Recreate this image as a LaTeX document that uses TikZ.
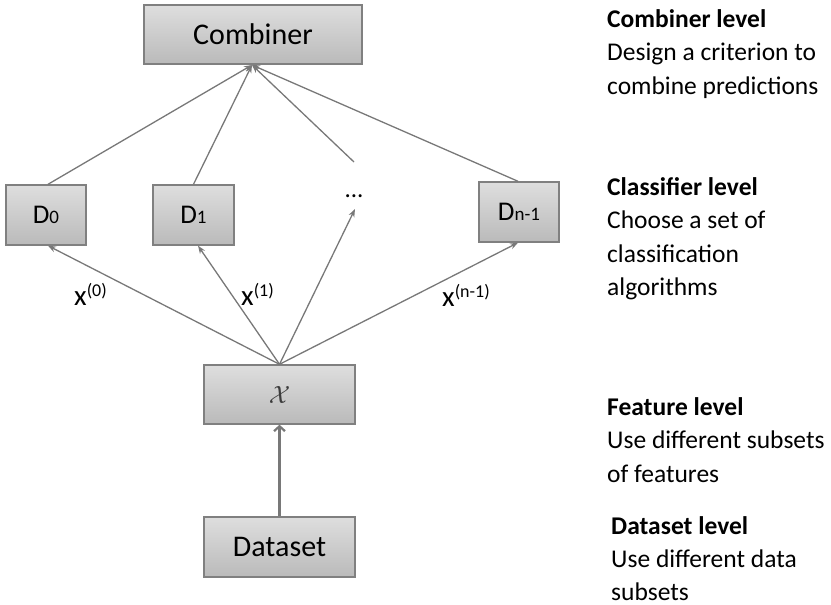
\documentclass[tikz,border=0pt]{standalone}
\usepackage{fontspec}
\setmainfont{Carlito}
\usetikzlibrary{arrows.meta,calc}
\definecolor{boxline}{RGB}{128,128,128}
\definecolor{boxtop}{RGB}{222,222,222}
\definecolor{boxbot}{RGB}{186,186,186}
\definecolor{linegray}{RGB}{120,120,120}
\definecolor{calx}{RGB}{60,60,60}
\begin{document}
\begin{tikzpicture}[x=1pt,y=-1pt,
  box/.style={draw=boxline, line width=1.4pt, top color=boxtop, bottom color=boxbot, inner sep=0pt, font=\fontsize{30}{36}\selectfont},
  conn/.style={draw=linegray, line width=1.3pt, -{Stealth[length=8pt,width=6pt]}},
  thick conn/.style={draw=linegray, line width=2.2pt, -{Straight Barb[length=5pt,width=11pt]}},
  lvl/.style={anchor=north west, inner sep=0pt, align=left, font=\fontsize{25.5}{33.5}\selectfont},
  xlab/.style={anchor=base west, inner sep=0pt, font=\fontsize{29}{34}\selectfont},
  dlab/.style={font=\fontsize{27}{30}\selectfont}
]
\useasboundingbox (0,0) rectangle (831,605);

% boxes
\node[box, minimum width=218pt, minimum height=59pt] (comb) at (253,34.5) {Combiner};
\node[box, dlab, minimum width=80pt, minimum height=60pt] (d0) at (46,215) {D{\fontsize{19}{22}\selectfont 0}};
\node[box, dlab, minimum width=81pt, minimum height=60pt] (d1) at (193.5,215) {D{\fontsize{19}{22}\selectfont 1}};
\node[box, dlab, minimum width=80pt, minimum height=60pt] (dn) at (519,212) {D{\fontsize{19}{22}\selectfont n-1}};
\node[anchor=base, inner sep=0pt, font=\fontsize{25}{30}\selectfont] (dots) at (354,197) {...};
\coordinate (dotsbot) at (355,209);
\coordinate (dotstop) at (354,162);
\node[box, minimum width=151pt, minimum height=59pt] (feat) at (279.5,394.5) {\color{calx}$\mathcal{X}$};
\node[box, minimum width=151pt, minimum height=60pt] (data) at (279.5,547) {Dataset};

% connectors to combiner
\coordinate (ctarget) at (252,65);
\draw[conn] ([xshift=2pt]d0.north) -- (ctarget);
\draw[conn] (d1.north) -- (ctarget);
\draw[conn] (dotstop) -- (ctarget);
\draw[conn] ([xshift=-1pt]dn.north) -- (ctarget);

% connectors from feature box
\draw[conn] (feat.north) -- ([xshift=2pt]d0.south);
\draw[conn] (feat.north) -- ([xshift=4.5pt]d1.south);
\draw[conn] (feat.north) -- (dotsbot);
\draw[conn] (feat.north) -- ([xshift=-1pt]dn.south);

% dataset to feature
\draw[thick conn] (data.north) -- (feat.south);

% edge labels
\node[xlab] (l0) at (74,305) {x\raisebox{9pt}{\fontsize{18}{20}\selectfont (0)}};
\node[xlab] (l1) at (241,305) {x\raisebox{9pt}{\fontsize{18}{20}\selectfont (1)}};
\node[xlab] (ln) at (442,306) {x\raisebox{9pt}{\fontsize{18}{20}\selectfont (n-1)}};

% level descriptions
\node[lvl] (t1) at (607,9) {\textbf{Combiner level}\\Design a criterion to\\combine predictions};
\node[lvl] (t2) at (607,177) {\textbf{Classifier level}\\Choose a set of\\classification\\algorithms};
\node[lvl] (t3) at (607,397) {\textbf{Feature level}\\Use different subsets\\of features};
\node[lvl, font=\fontsize{25.5}{33}\selectfont] (t4) at (611,516) {\textbf{Dataset level}\\Use different data\\subsets};
\end{tikzpicture}
\end{document}
